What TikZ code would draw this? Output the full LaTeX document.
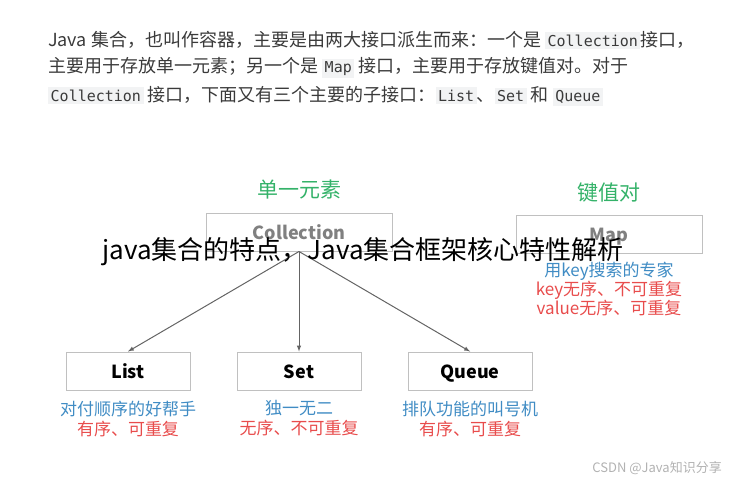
\documentclass[tikz,border=0pt]{standalone}
\usepackage{fontspec}
\setmainfont{Noto Sans CJK SC}
\newfontfamily\codefont{DejaVu Sans Mono}
\usetikzlibrary{positioning}
\definecolor{codebg}{RGB}{242,243,244}
\definecolor{txtgray}{RGB}{58,58,58}
\definecolor{keygreen}{RGB}{52,178,105}
\definecolor{noteblue}{RGB}{64,140,196}
\definecolor{notered}{RGB}{232,76,76}
\definecolor{boxline}{RGB}{192,192,192}
\definecolor{arrowgray}{RGB}{100,100,100}
\newcommand{\code}[1]{{\setlength{\fboxsep}{2.5pt}\colorbox{codebg}{\codefont\fontsize{15}{18}\selectfont #1}}}

\begin{document}
\begin{tikzpicture}[x=1pt,y=-1pt,node distance=171pt]
 \tikzstyle{every node}=[inner sep=0pt]
 \tikzstyle{line}=[anchor=west, text=txtgray, font=\fontsize{18}{21}\selectfont]
 \tikzstyle{box}=[draw=boxline, line width=1pt, minimum width=124pt, minimum height=38pt, text height=15pt, text depth=1pt, font=\bfseries\fontsize{18}{22}\selectfont]
 \tikzstyle{bigbox}=[box, minimum width=186pt, text=gray]
 \tikzstyle{title}=[text=keygreen, font=\fontsize{21}{24}\selectfont]
 \tikzstyle{note}=[align=center, font=\fontsize{17}{20}\selectfont]
 \tikzstyle{arrow}=[-latex, draw=arrowgray, line width=1pt]
 \useasboundingbox (0,0) rectangle (729,490);

 \node[line] (l1) at (48,40) {Java 集合，也叫作容器，主要是由两大接口派生而来：一个是 \code{Collection}接口，};
 \node[line] (l2) at (48,68) {主要用于存放单一元素；另一个是 \code{Map} 接口，主要用于存放键值对。对于};
 \node[line] (l3) at (48,96) {\code{Collection} 接口，下面又有三个主要的子接口：\code{List}、\code{Set} 和 \code{Queue}};

 \node[bigbox] (coll) at (299,232) {Collection};
 \node[bigbox] (map) at (609,234) {Map};
 \node[title] (single) [above=13pt of coll] {单一元素};
 \node[title] (pair) [above=12pt of map] {键值对};
 \node[note, font=\fontsize{17}{19}\selectfont] (mapnote) [below=8pt of map] {{\color{noteblue}用key搜索的专家}\\{\color{notered}key无序、不可重复}\\{\color{notered}value无序、可重复}};

 \node[box] (list) at (128,371) {List};
 \node[box] (set) [right of=list] {Set};
 \node[box] (queue) [right of=set] {Queue};
 \node[note] (listnote) [below=10pt of list] {{\color{noteblue}对付顺序的好帮手}\\{\color{notered}有序、可重复}};
 \node[note] (setnote) [below=10pt of set] {{\color{noteblue}独一无二}\\{\color{notered}无序、不可重复}};
 \node[note] (queuenote) [below=10pt of queue] {{\color{noteblue}排队功能的叫号机}\\{\color{notered}有序、可重复}};

 \coordinate (fork) at (coll.south);
 \draw[arrow] (fork) -- (list.north);
 \draw[arrow] (fork) -- (set.north);
 \draw[arrow] (fork) -- (queue.north);

 \node[font=\fontsize{26}{30}\selectfont] (wm) at (363,252) {java集合的特点，Java集合框架核心特性解析};
 \node[text=gray!60, anchor=east, font=\fontsize{13}{16}\selectfont] (csdn) at (722,468) {CSDN @Java知识分享};
\end{tikzpicture}
\end{document}
